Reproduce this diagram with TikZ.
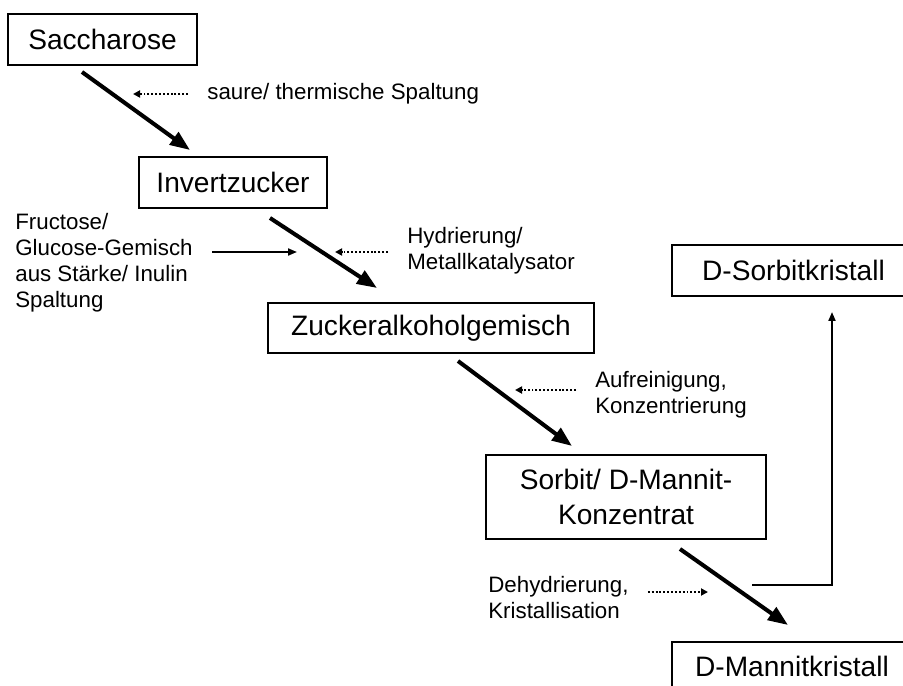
\documentclass[tikz,border=0pt]{standalone}
\usepackage{fontspec}
\setmainfont{Liberation Sans}
\usetikzlibrary{arrows.meta}
\tikzset{
  stoff/.style={draw, line width=1.4pt, font=\fontsize{16}{20}\selectfont, align=center, inner sep=0pt},
  weg/.style={line width=2.3pt, -{Triangle[length=0.4cm,width=0.3cm]}},
  hinweis/.style={font=\fontsize{12.7}{14.7}\selectfont, align=left, inner xsep=0.38cm, inner ysep=0pt},
  punkt/.style={line width=1.2pt, dash pattern=on 1.1pt off 1.1pt, -{Triangle[length=0.14cm,width=0.14cm]}},
  zufuhr/.style={line width=1.1pt, -{Triangle[length=0.18cm,width=0.14cm]}}
}
\begin{document}
\begin{tikzpicture}[x=0.02cm, y=-0.02cm]
        \clip (0,0) rectangle (903,686);
        \node[stoff, minimum width=3.78cm, minimum height=1.02cm] (sac) at (102.5,39.5) {Saccharose};
        \node[stoff, minimum width=3.76cm, minimum height=1.02cm] (inv) at (233,182.5) {Invertzucker};
        \node[stoff, minimum width=6.52cm, minimum height=1cm] (zag) at (431,328) {Zuckeralkoholgemisch};
        \node[stoff, minimum width=5.6cm, minimum height=1.68cm] (kon) at (626,497) {Sorbit/ D-Mannit-\\Konzentrat};
        \node[stoff, minimum width=4.86cm, minimum height=1.02cm] (sork) at (793.5,270.5) {D-Sorbitkristall};
        \node[stoff, minimum width=4.8cm, minimum height=0.96cm] (mank) at (792,666) {D-Mannitkristall};
        % Hauptweg
        \coordinate (a1) at (82,72); \coordinate (b1) at (190,150);
        \coordinate (a2) at (270,218); \coordinate (b2) at (377,288);
        \coordinate (a3) at (458,361); \coordinate (b3) at (572,446);
        \coordinate (a4) at (680,549); \coordinate (b4) at (788,625);
        \foreach \i in {1,...,4}
            \draw[weg] (a\i) -- (b\i);
        % Verfahrensschritte
        \node[hinweis, anchor=west] (spalt) at (188,94) {saure/ thermische Spaltung};
        \node[hinweis, anchor=west] (hyd) at (388,251) {Hydrierung/\\Metallkatalysator};
        \node[hinweis, anchor=west] (auf) at (576,394.5) {Aufreinigung,\\Konzentrierung};
        \node[hinweis, anchor=west] (dehy) at (469,597.5) {Dehydrierung,\\Kristallisation};
        \node[hinweis, anchor=west] (fru) at (-4,262.5) {Fructose/\\Glucose-Gemisch\\aus Stärke/ Inulin\\Spaltung};
        \coordinate (p1) at (133,94); \coordinate (p2) at (335,252);
        \coordinate (p3) at (515,390); \coordinate (p4) at (708,592);
        \coordinate (z1) at (297,252);
        \draw[punkt] (spalt.west) -- (p1);
        \draw[punkt] (hyd.west |- p2) -- (p2);
        \draw[punkt] (auf.west |- p3) -- (p3);
        \draw[punkt] (dehy.east |- p4) -- (p4);
        \draw[zufuhr] (fru.east |- z1) -- (z1);
        % Abzweig Sorbit
        \coordinate (k1) at (752,585); \coordinate (k2) at (832,312);
        \draw[zufuhr] (k1) -| (k2);
    \end{tikzpicture}
\end{document}
